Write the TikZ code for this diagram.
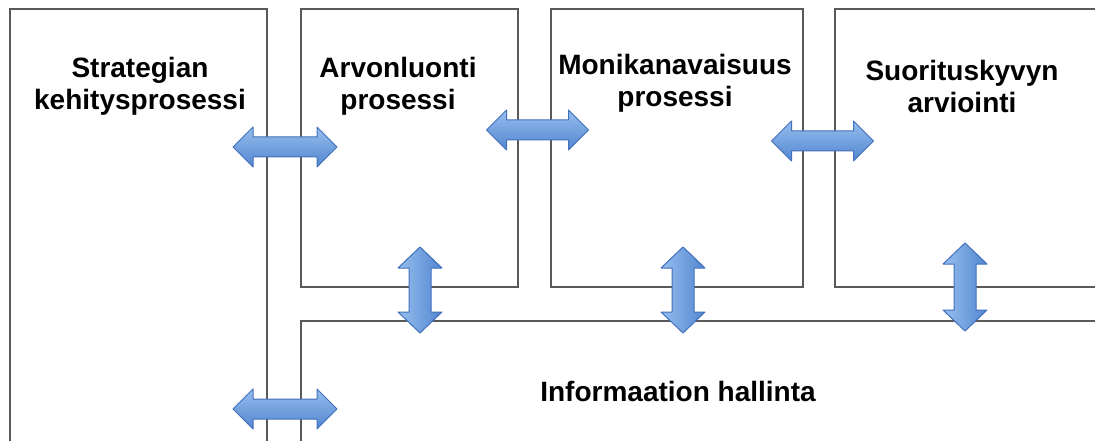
\documentclass[tikz,border=0pt]{standalone}
\usepackage{fontspec}
\setmainfont{Liberation Sans}
\definecolor{arrowedge}{RGB}{66,112,188}
\definecolor{arrowlight}{RGB}{150,190,238}
\definecolor{arrowdark}{RGB}{82,134,208}
\begin{document}
\begin{tikzpicture}[x=1pt,y=-1pt,
  boxline/.style={draw=black!65, line width=1.6pt, fill=none},
  lbl/.style={font=\fontsize{28}{32}\selectfont\bfseries, align=center, inner sep=0pt},
  arrowfill/.style={draw=arrowedge, line width=1pt, line join=round,
     top color=arrowlight, bottom color=arrowdark},
  varrowfill/.style={draw=arrowedge, line width=1pt, line join=round,
     left color=arrowlight, right color=arrowdark},
  pics/harrow/.style={code={
    \path[arrowfill] (-#1,0) -- (-#1+20,-20) -- (-#1+20,-10) -- (#1-20,-10) -- (#1-20,-20)
      -- (#1,0) -- (#1-20,20) -- (#1-20,10) -- (-#1+20,10) -- (-#1+20,20) -- cycle;}},
  pics/varrow/.style={code={
    \path[varrowfill] (0,-#1) -- (-22,-#1+21) -- (-11,-#1+21) -- (-11,#1-21) -- (-22,#1-21)
      -- (0,#1) -- (22,#1-21) -- (11,#1-21) -- (11,-#1+21) -- (22,-#1+21) -- cycle;}}
]
\useasboundingbox (0,0) rectangle (1095,441);
\fill[white] (0,0) rectangle (1095,441);
\begin{scope}
\clip (0,0) rectangle (1095,441);
% boxes
\node[boxline, minimum width=257pt, minimum height=460pt, anchor=north west] (strat) at (9,8) {};
\node[boxline, minimum width=217pt, minimum height=278pt, anchor=north west] (arvo) at (300,8) {};
\node[boxline, minimum width=252pt, minimum height=278pt, anchor=north west] (moni) at (550,8) {};
\node[boxline, minimum width=280pt, minimum height=278pt, anchor=north west] (suor) at (834,8) {};
\node[boxline, minimum width=820pt, minimum height=150pt, anchor=north west] (info) at (300,320) {};
\end{scope}
% labels
\node[lbl] (tstrat) at (140,86) {Strategian\\kehitysprosessi};
\node[lbl] (tarvo) at (398,86) {Arvonluonti\\prosessi};
\node[lbl] (tmoni) at (675,83) {Monikanavaisuus\\prosessi};
\node[lbl] (tsuor) at (962,86) {Suorituskyvyn\\arviointi};
\node[lbl] (tinfo) at (678,391) {Informaation hallinta};
% arrows
\pic at (285,147) {harrow=52};
\pic at (537.5,130) {harrow=51};
\pic at (822.5,141) {harrow=51};
\pic at (285,409) {harrow=52};
\pic at (420,290) {varrow=43};
\pic at (683,290) {varrow=43};
\pic at (965,287) {varrow=44};
\end{tikzpicture}
\end{document}
